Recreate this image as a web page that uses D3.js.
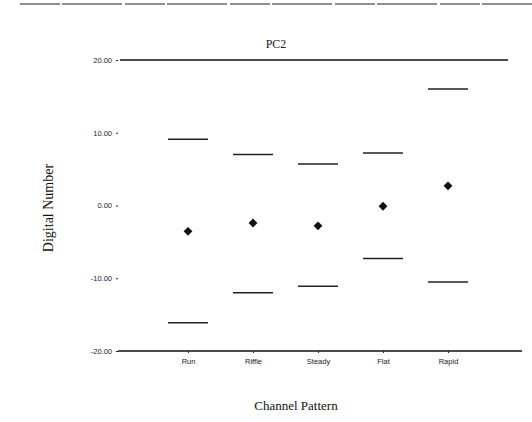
<!DOCTYPE html>
<html><head><meta charset="utf-8">
<script src="https://cdn.jsdelivr.net/npm/d3@7"></script>
<style>html,body{margin:0;padding:0;background:#fff;}</style>
</head><body>
<svg id="c" width="532" height="422"></svg>
<script>
const categories = ["Run", "Riffle", "Steady", "Flat", "Rapid"];
const upperValues = [9.1, 7.0, 5.7, 7.2, 16.0];
const meanValues = [-3.55, -2.4, -2.8, -0.1, 2.7];
const lowerValues = [-16.1, -12.0, -11.1, -7.3, -10.5];
const yTicks = [20, 10, 0, -10, -20];
const yTickLabels = ["20.00", "10.00", "0.00", "-10.00", "-20.00"];

const svg = d3.select("#c");
const x = d3.scalePoint().domain(categories).range([188, 448]);
const y = d3.scaleLinear().domain([-20, 20]).range([351, 60]);

// scan border at top
svg.append("line").attr("x1", 20).attr("x2", 532).attr("y1", 4).attr("y2", 4)
  .attr("stroke", "#222").attr("stroke-width", 1.2).attr("stroke-dasharray", "40,2,60,3");

// frame lines top and bottom
svg.append("line").attr("x1", 120).attr("x2", 508).attr("y1", y(20)).attr("y2", y(20))
  .attr("stroke", "#111").attr("stroke-width", 1.5);
svg.append("line").attr("x1", 118).attr("x2", 522).attr("y1", y(-20)).attr("y2", y(-20))
  .attr("stroke", "#111").attr("stroke-width", 1.5);

// y axis ticks
const yAxis = d3.axisLeft(y).tickValues(yTicks)
  .tickFormat((d, i) => yTickLabels[i]).tickSize(2).tickPadding(4);
const gy = svg.append("g").attr("transform", "translate(118,0)").call(yAxis);
gy.select(".domain").remove();
gy.selectAll("text").attr("font-family", "Liberation Sans, Arial").attr("font-size", 7.5).attr("fill", "#222");
gy.selectAll("line").attr("stroke", "#222");

// x axis
const xAxis = d3.axisBottom(x).tickSize(2).tickPadding(6);
const gx = svg.append("g").attr("transform", `translate(0,${y(-20)})`).call(xAxis);
gx.select(".domain").remove();
gx.selectAll("text").attr("font-family", "Liberation Sans, Arial").attr("font-size", 7.5).attr("fill", "#222");
gx.selectAll("line").attr("stroke", "#222");

const half = 20;
svg.append("g").selectAll("line").data(categories).join("line")
  .attr("x1", d => x(d) - half).attr("x2", d => x(d) + half)
  .attr("y1", (d, i) => y(upperValues[i])).attr("y2", (d, i) => y(upperValues[i]))
  .attr("stroke", "#222").attr("stroke-width", 1.5);
svg.append("g").selectAll("line").data(categories).join("line")
  .attr("x1", d => x(d) - half).attr("x2", d => x(d) + half)
  .attr("y1", (d, i) => y(lowerValues[i])).attr("y2", (d, i) => y(lowerValues[i]))
  .attr("stroke", "#222").attr("stroke-width", 1.5);
svg.append("g").selectAll("path").data(categories).join("path")
  .attr("d", d3.symbol(d3.symbolDiamond2, 50))
  .attr("transform", (d, i) => `translate(${x(d)},${y(meanValues[i])})`)
  .attr("fill", "#111");

// titles
svg.append("text").attr("x", 276).attr("y", 48).attr("text-anchor", "middle")
  .attr("font-family", "Liberation Serif, serif").attr("font-size", 12).attr("fill", "#222").text("PC2");
svg.append("text").attr("transform", "translate(53,208) rotate(-90)").attr("text-anchor", "middle")
  .attr("font-family", "Liberation Serif, serif").attr("font-size", 14).attr("fill", "#111").text("Digital Number");
svg.append("text").attr("x", 296).attr("y", 410).attr("text-anchor", "middle")
  .attr("font-family", "Liberation Serif, serif").attr("font-size", 13).attr("fill", "#111").text("Channel Pattern");
</script>
</body></html>
